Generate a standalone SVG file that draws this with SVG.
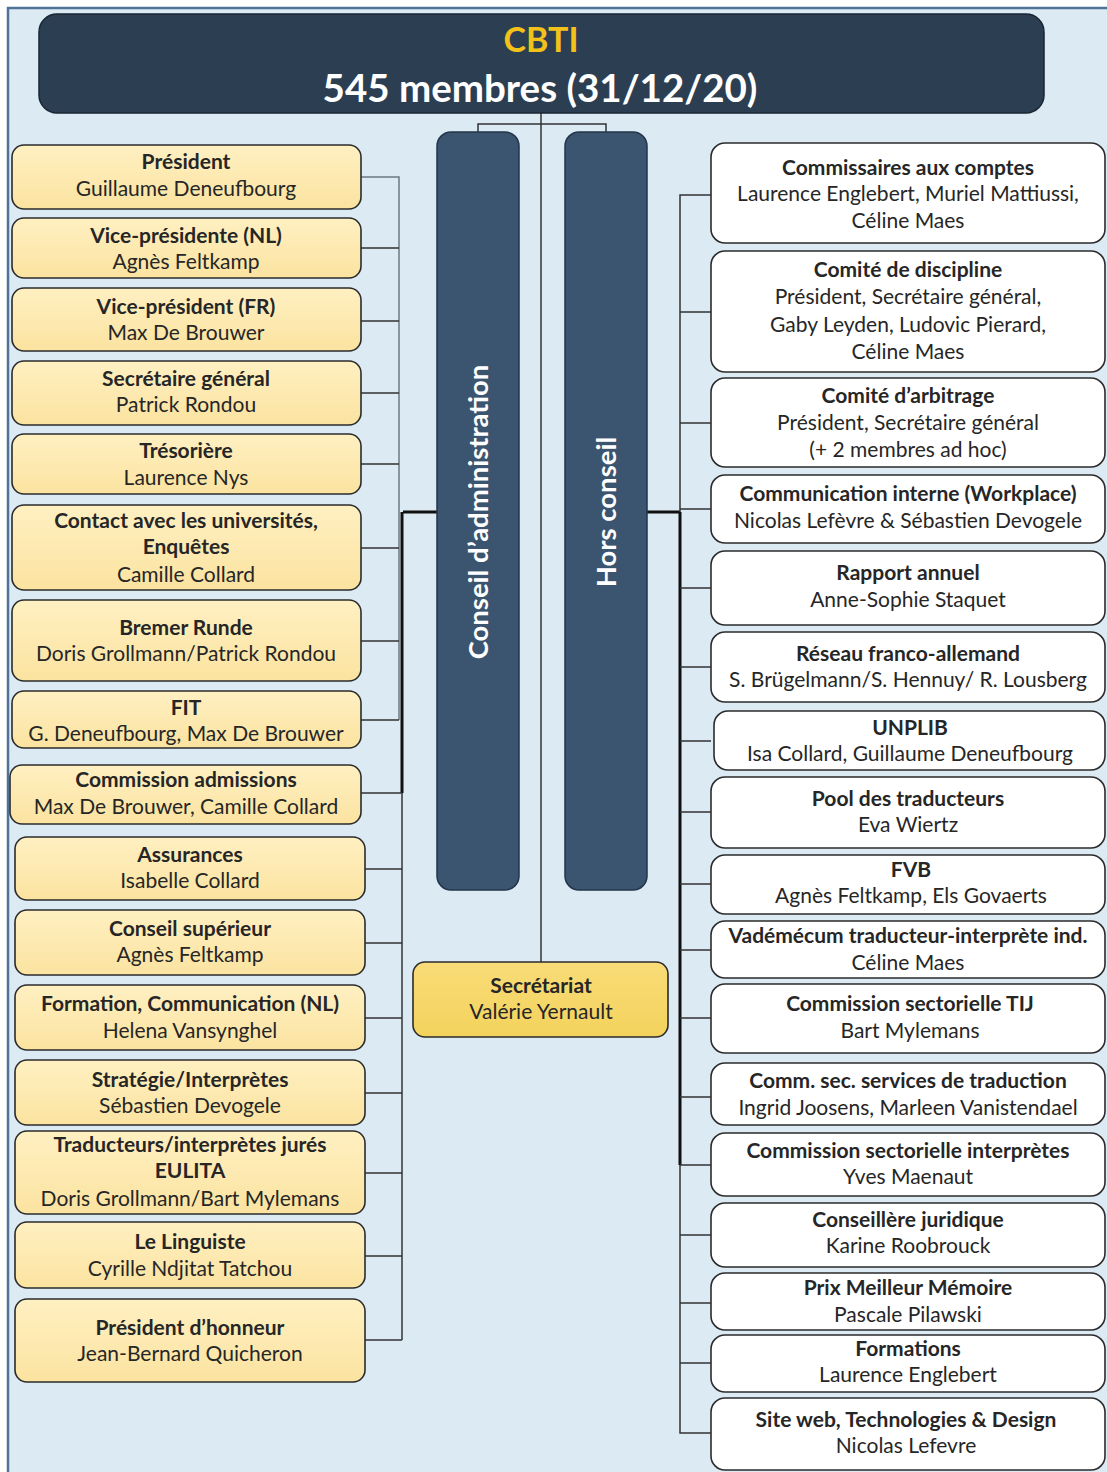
<svg xmlns="http://www.w3.org/2000/svg" width="1107" height="1472" viewBox="0 0 1107 1472">
<defs>
<linearGradient id="gy" x1="0" y1="0" x2="0" y2="1"><stop offset="0" stop-color="#fff0c2"/><stop offset="1" stop-color="#fbe3a0"/></linearGradient>
<linearGradient id="gs" x1="0" y1="0" x2="0" y2="1"><stop offset="0" stop-color="#f9dc78"/><stop offset="1" stop-color="#f3d25c"/></linearGradient>
</defs>
<style>
text{font-family:Lato,"Open Sans","Liberation Sans",sans-serif;text-anchor:middle;fill:#262626;font-size:21px}
.b{font-weight:bold}
.y{fill:url(#gy);stroke:#2b2b2b;stroke-width:1.6}
.w{fill:#ffffff;stroke:#2b2b2b;stroke-width:1.6}
.c{fill:none;stroke:#333;stroke-width:1.5}
.t{fill:none;stroke:#111;stroke-width:3}
.g{fill:none;stroke:#6c7a84;stroke-width:1.5}
.vt{fill:#ffffff;font-size:27.5px;font-weight:bold}
</style>
<rect x="0" y="0" width="1107" height="1472" fill="#ffffff"/>
<rect x="8" y="8" width="1110" height="1480" fill="#dbeaf3" stroke="#4f7398" stroke-width="2.5"/>

<g id="connectors">
<path class="c" d="M541 113V962"/>
<path class="c" d="M478 133V124H606V133"/>
<path class="t" d="M403 512H437"/>
<path class="g" d="M361 177H399V720"/>
<path class="c" d="M361 248H399M361 321H399M361 393H399M361 464H399M361 548H399M361 641H399M361 720H399"/>
<path class="t" d="M402 512V793"/>
<path class="c" d="M402 793V1340"/>
<path class="c" d="M361 793H402M365 869H402M365 943H402M365 1018H402M365 1093H402M365 1173H402M365 1256H402M365 1340H402"/>
<path class="t" d="M647 512H680"/>
<path class="c" d="M711 195H680V512"/>
<path class="t" d="M680 512V1165"/>
<path class="c" d="M680 1165V1433H711"/>
<path class="c" d="M680 312H711M680 423H711M680 509H711M680 588H711M680 667H711M680 741H711M680 812H711M680 884H711M680 950H711M680 1018H711M680 1097H711M680 1165H711M680 1235H711M680 1303H711M680 1363H711"/>
</g>

<g id="cbti">
<rect x="39" y="14" width="1005" height="99" rx="18" fill="#2c3e51" stroke="#1a2633" stroke-width="1.5"/>
<text x="541" y="52" class="b" style="font-size:34px;fill:#f2c21b">CBTI</text>
<text x="540" y="102" class="b" style="font-size:38.5px;fill:#ffffff">545 membres (31/12/20)</text>
</g>
<g id="conseil">
<rect x="437" y="132" width="82" height="758" rx="14" fill="#3b5570" stroke="#22364a" stroke-width="1.5"/>
<text class="vt" transform="translate(488 512) rotate(-90)">Conseil d’administration</text>
</g>
<g id="hors">
<rect x="565" y="132" width="82" height="758" rx="14" fill="#3b5570" stroke="#22364a" stroke-width="1.5"/>
<text class="vt" transform="translate(616 512) rotate(-90)">Hors conseil</text>
</g>
<g id="secretariat">
<rect x="413" y="962" width="255" height="75" rx="12" fill="url(#gs)" stroke="#2b2b2b" stroke-width="1.6"/>
<text x="541" y="993" class="b">Secrétariat</text>
<text x="541" y="1019">Valérie Yernault</text>
</g>

<g id="l1"><rect class="y" x="12" y="145" width="349" height="64" rx="12"/><text x="186" y="169" class="b">Président</text><text x="186" y="196">Guillaume Deneufbourg</text></g>
<g id="l2"><rect class="y" x="12" y="218" width="349" height="60" rx="12"/><text x="186" y="243" class="b">Vice-présidente (NL)</text><text x="186" y="269">Agnès Feltkamp</text></g>
<g id="l3"><rect class="y" x="12" y="288" width="349" height="63" rx="12"/><text x="186" y="314" class="b">Vice-président (FR)</text><text x="186" y="340">Max De Brouwer</text></g>
<g id="l4"><rect class="y" x="12" y="361" width="349" height="64" rx="12"/><text x="186" y="386" class="b">Secrétaire général</text><text x="186" y="412">Patrick Rondou</text></g>
<g id="l5"><rect class="y" x="12" y="434" width="349" height="60" rx="12"/><text x="186" y="458" class="b">Trésorière</text><text x="186" y="485">Laurence Nys</text></g>
<g id="l6"><rect class="y" x="12" y="505" width="349" height="85" rx="12"/><text x="186" y="528" class="b">Contact avec les universités,</text><text x="186" y="554" class="b">Enquêtes</text><text x="186" y="582">Camille Collard</text></g>
<g id="l7"><rect class="y" x="12" y="600" width="349" height="81" rx="12"/><text x="186" y="635" class="b">Bremer Runde</text><text x="186" y="661">Doris Grollmann/Patrick Rondou</text></g>
<g id="l8"><rect class="y" x="12" y="691" width="349" height="57" rx="12"/><text x="186" y="715" class="b">FIT</text><text x="186" y="741">G. Deneufbourg, Max De Brouwer</text></g>
<g id="l9"><rect class="y" x="10" y="765" width="351" height="59" rx="12"/><text x="186" y="787" class="b">Commission admissions</text><text x="186" y="814">Max De Brouwer, Camille Collard</text></g>
<g id="l10"><rect class="y" x="15" y="837" width="350" height="63" rx="12"/><text x="190" y="862" class="b">Assurances</text><text x="190" y="888">Isabelle Collard</text></g>
<g id="l11"><rect class="y" x="15" y="910" width="350" height="65" rx="12"/><text x="190" y="936" class="b">Conseil supérieur</text><text x="190" y="962">Agnès Feltkamp</text></g>
<g id="l12"><rect class="y" x="15" y="985" width="350" height="65" rx="12"/><text x="190" y="1011" class="b">Formation, Communication (NL)</text><text x="190" y="1038">Helena Vansynghel</text></g>
<g id="l13"><rect class="y" x="15" y="1060" width="350" height="65" rx="12"/><text x="190" y="1087" class="b">Stratégie/Interprètes</text><text x="190" y="1113">Sébastien Devogele</text></g>
<g id="l14"><rect class="y" x="15" y="1131" width="350" height="83" rx="12"/><text x="190" y="1152" class="b">Traducteurs/interprètes jurés</text><text x="190" y="1178" class="b">EULITA</text><text x="190" y="1206">Doris Grollmann/Bart Mylemans</text></g>
<g id="l15"><rect class="y" x="15" y="1222" width="350" height="66" rx="12"/><text x="190" y="1249" class="b">Le Linguiste</text><text x="190" y="1276">Cyrille Ndjitat Tatchou</text></g>
<g id="l16"><rect class="y" x="15" y="1299" width="350" height="83" rx="12"/><text x="190" y="1335" class="b">Président d’honneur</text><text x="190" y="1361">Jean-Bernard Quicheron</text></g>

<g id="r1"><rect class="w" x="711" y="143" width="394" height="100" rx="14"/><text x="908" y="175" class="b">Commissaires aux comptes</text><text x="908" y="201">Laurence Englebert, Muriel Mattiussi,</text><text x="908" y="228">Céline Maes</text></g>
<g id="r2"><rect class="w" x="711" y="251" width="394" height="121" rx="14"/><text x="908" y="277" class="b">Comité de discipline</text><text x="908" y="304">Président, Secrétaire général,</text><text x="908" y="332">Gaby Leyden, Ludovic Pierard,</text><text x="908" y="359">Céline Maes</text></g>
<g id="r3"><rect class="w" x="711" y="378" width="394" height="89" rx="14"/><text x="908" y="403" class="b">Comité d’arbitrage</text><text x="908" y="430">Président, Secrétaire général</text><text x="908" y="457">(+ 2 membres ad hoc)</text></g>
<g id="r4"><rect class="w" x="711" y="475" width="394" height="68" rx="14"/><text x="908" y="501" class="b">Communication interne (Workplace)</text><text x="908" y="528">Nicolas Lefèvre &amp; Sébastien Devogele</text></g>
<g id="r5"><rect class="w" x="711" y="551" width="394" height="74" rx="14"/><text x="908" y="580" class="b">Rapport annuel</text><text x="908" y="607">Anne-Sophie Staquet</text></g>
<g id="r6"><rect class="w" x="711" y="632" width="394" height="70" rx="14"/><text x="908" y="661" class="b">Réseau franco-allemand</text><text x="908" y="687">S. Brügelmann/S. Hennuy/ R. Lousberg</text></g>
<g id="r7"><rect class="w" x="714" y="711" width="391" height="59" rx="14"/><text x="910" y="735" class="b">UNPLIB</text><text x="910" y="761">Isa Collard, Guillaume Deneufbourg</text></g>
<g id="r8"><rect class="w" x="711" y="777" width="394" height="71" rx="14"/><text x="908" y="806" class="b">Pool des traducteurs</text><text x="908" y="832">Eva Wiertz</text></g>
<g id="r9"><rect class="w" x="711" y="855" width="394" height="59" rx="14"/><text x="911" y="877" class="b">FVB</text><text x="911" y="903">Agnès Feltkamp, Els Govaerts</text></g>
<g id="r10"><rect class="w" x="711" y="921" width="394" height="57" rx="14"/><text x="908" y="943" class="b">Vadémécum traducteur-interprète ind.</text><text x="908" y="970">Céline Maes</text></g>
<g id="r11"><rect class="w" x="711" y="984" width="394" height="69" rx="14"/><text x="910" y="1011" class="b">Commission sectorielle TIJ</text><text x="910" y="1038">Bart Mylemans</text></g>
<g id="r12"><rect class="w" x="711" y="1063" width="394" height="62" rx="14"/><text x="908" y="1088" class="b">Comm. sec. services de traduction</text><text x="908" y="1115">Ingrid Joosens, Marleen Vanistendael</text></g>
<g id="r13"><rect class="w" x="711" y="1133" width="394" height="63" rx="14"/><text x="908" y="1158" class="b">Commission sectorielle interprètes</text><text x="908" y="1184">Yves Maenaut</text></g>
<g id="r14"><rect class="w" x="711" y="1203" width="394" height="64" rx="14"/><text x="908" y="1227" class="b">Conseillère juridique</text><text x="908" y="1253">Karine Roobrouck</text></g>
<g id="r15"><rect class="w" x="711" y="1273" width="394" height="57" rx="14"/><text x="908" y="1295" class="b">Prix Meilleur Mémoire</text><text x="908" y="1322">Pascale Pilawski</text></g>
<g id="r16"><rect class="w" x="711" y="1335" width="394" height="57" rx="14"/><text x="908" y="1356" class="b">Formations</text><text x="908" y="1382">Laurence Englebert</text></g>
<g id="r17"><rect class="w" x="711" y="1398" width="394" height="72" rx="14"/><text x="906" y="1427" class="b">Site web, Technologies &amp; Design</text><text x="906" y="1453">Nicolas Lefevre</text></g>
</svg>
